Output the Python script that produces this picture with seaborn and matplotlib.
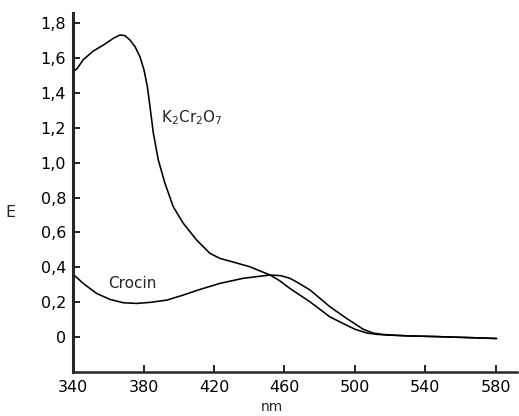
import pandas as pd
import matplotlib
matplotlib.use("Agg")
import matplotlib.pyplot as plt
import seaborn as sns

# Absorption spectra (wavelength in nm, extinction E)
k2cr2o7_nm = [340, 342.4, 345.8, 351.5, 357.2, 362.9, 366.7, 369.5, 372.3, 375.2,
              378, 380.3, 382.2, 383.7, 385.6, 388.4, 392.2, 396.9, 402.6, 410.2,
              417.7, 423.4, 431, 440.4, 451.8, 457, 463.1, 474.5, 485.8, 494.3,
              500, 506.6, 512, 518, 530, 546, 562, 580.4]
k2cr2o7_e = [1.52, 1.54, 1.59, 1.64, 1.674, 1.713, 1.732, 1.728, 1.703, 1.665,
             1.607, 1.531, 1.435, 1.32, 1.168, 1.015, 0.881, 0.747, 0.652, 0.556,
             0.48, 0.451, 0.43, 0.403, 0.356, 0.325, 0.279, 0.202, 0.116, 0.073,
             0.045, 0.024, 0.016, 0.012, 0.007, 0.003, -0.002, -0.008]

crocin_nm = [340, 340.6, 345.8, 353.4, 361, 368.5, 376.1, 383.7, 393.2, 402.6,
             412, 423.4, 436.6, 451.8, 458, 463.1, 468, 474.5, 485.8, 495.3,
             504.7, 510.4, 516, 522, 530, 546, 562, 580.4]
crocin_e = [0.36, 0.355, 0.308, 0.25, 0.216, 0.197, 0.193, 0.199, 0.212, 0.241,
            0.273, 0.308, 0.337, 0.356, 0.352, 0.337, 0.31, 0.27, 0.174, 0.107,
            0.045, 0.023, 0.015, 0.011, 0.007, 0.003, -0.002, -0.008]

y_ticks = [0, 0.2, 0.4, 0.6, 0.8, 1.0, 1.2, 1.4, 1.6, 1.8]
y_labels = ["0", "0,2", "0,4", "0,6", "0,8", "1,0", "1,2", "1,4", "1,6", "1,8"]
x_ticks = [340, 380, 420, 460, 500, 540, 580]

df = pd.concat([
    pd.DataFrame({"nm": k2cr2o7_nm, "E": k2cr2o7_e, "serie": "K2Cr2O7"}),
    pd.DataFrame({"nm": crocin_nm, "E": crocin_e, "serie": "Crocin"}),
])

sns.set_style("ticks")
plt.rcParams["font.family"] = ["DejaVu Sans"]

fig = plt.figure(figsize=(5.19, 4.16), dpi=100)
ax = fig.add_axes([0.1407, 0.1058, 0.8555, 0.863])

sns.lineplot(data=df, x="nm", y="E", units="serie", estimator=None, sort=False,
             color="black", linewidth=1.15, ax=ax,
             solid_joinstyle="round", solid_capstyle="round")

ax.set_xlim(340, 592)
ax.set_ylim(-0.2, 1.858)
ax.set_xticks(x_ticks)
ax.set_yticks(y_ticks)
ax.set_yticklabels(y_labels)
ax.tick_params(direction="in", length=5, width=1.2, labelsize=11.5, colors="black")
ax.tick_params(axis="x", pad=6)
ax.tick_params(axis="y", pad=5)
for s in ["top", "right"]:
    ax.spines[s].set_visible(False)
ax.spines["left"].set_linewidth(2.2)
ax.spines["bottom"].set_linewidth(1.8)

ax.set_xlabel("")
ax.set_ylabel("")
fig.text(10 / 519, 1 - 213 / 416, "E", fontsize=11.5, ha="center", va="center")
fig.text(272 / 519, 1 - 407 / 416, "nm", fontsize=10, ha="center", va="center")

ax.text(389.8, 1.256, r"K$_2$Cr$_2$O$_7$", fontsize=11, ha="left", va="center")
ax.text(360, 0.31, "Crocin", fontsize=11, ha="left", va="center")

fig.savefig("out.png", dpi=100)
